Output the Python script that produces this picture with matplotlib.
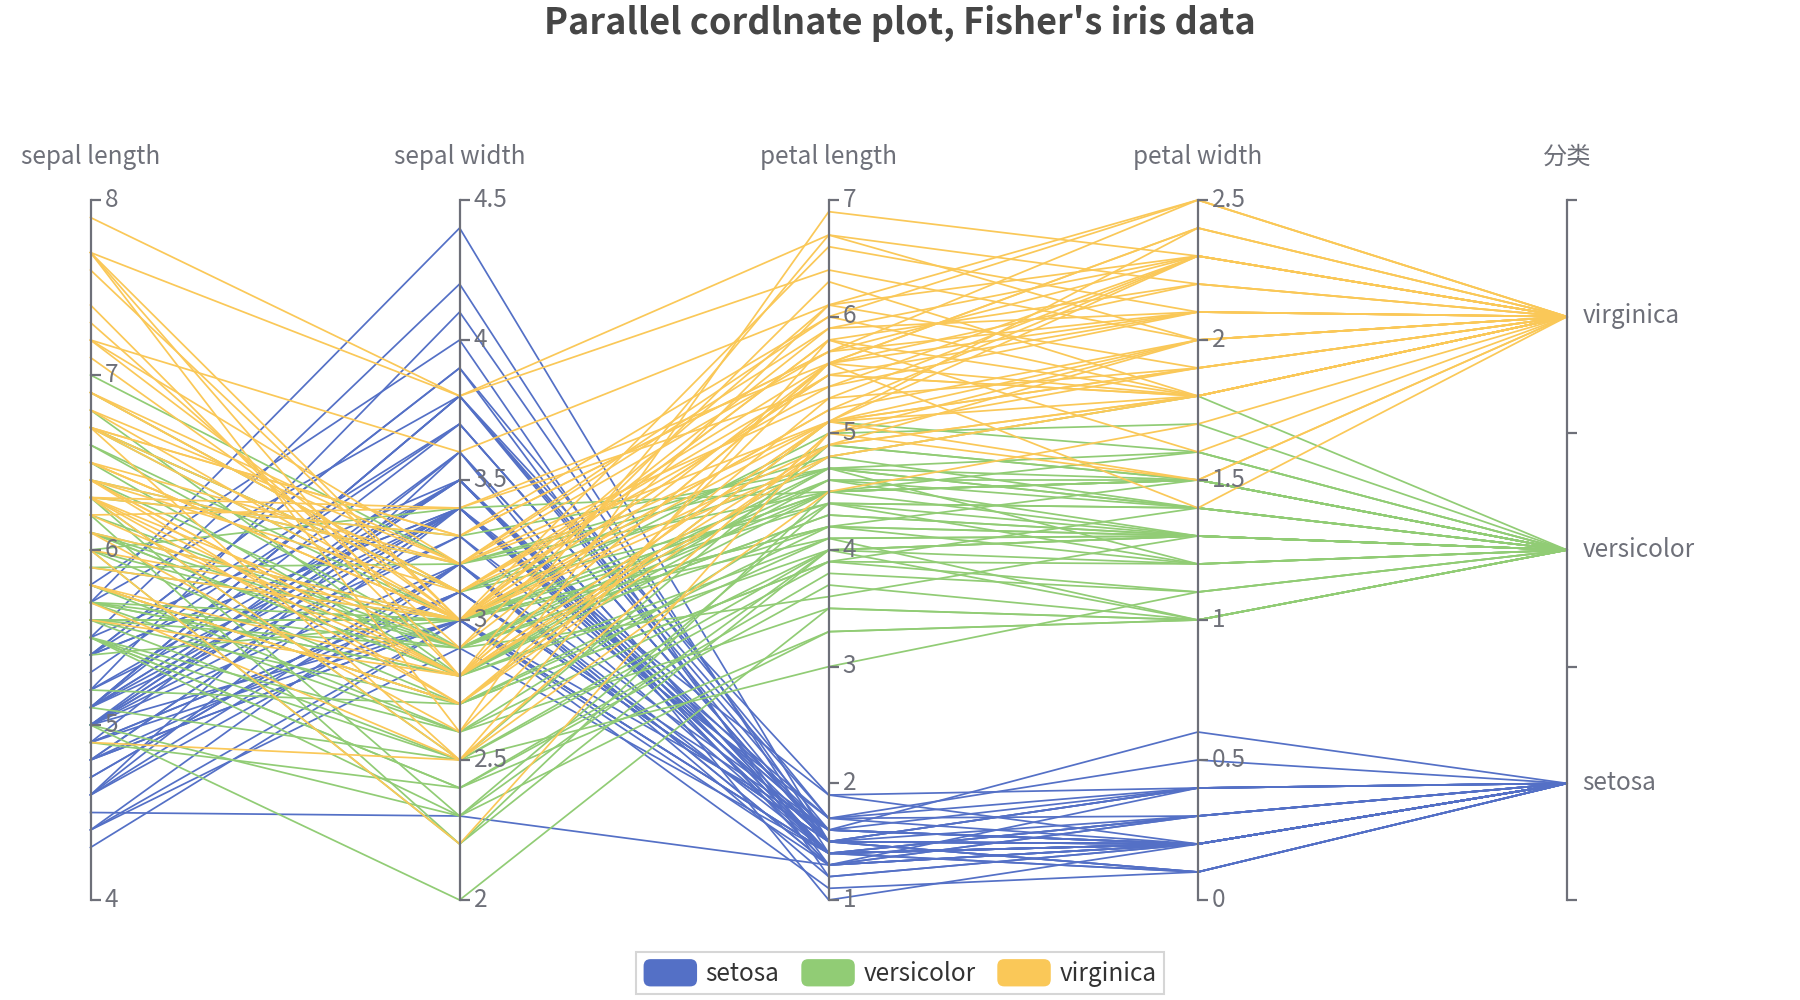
import matplotlib
matplotlib.use("Agg")
import matplotlib.pyplot as plt
from matplotlib.patches import Patch, FancyBboxPatch
from matplotlib.legend_handler import HandlerPatch
from matplotlib.transforms import ScaledTranslation
import numpy as np

plt.rcParams['font.family'] = ['Noto Sans CJK SC', 'DejaVu Sans']

# Fisher's iris data, one list per column
sepal_length = [
    5.1, 4.9, 4.7, 4.6, 5.0, 5.4, 4.6, 5.0, 4.4, 4.9, 5.4, 4.8, 4.8, 4.3, 5.8, 5.7, 5.4, 5.1, 5.7, 5.1,
    5.4, 5.1, 4.6, 5.1, 4.8, 5.0, 5.0, 5.2, 5.2, 4.7, 4.8, 5.4, 5.2, 5.5, 4.9, 5.0, 5.5, 4.9, 4.4, 5.1,
    5.0, 4.5, 4.4, 5.0, 5.1, 4.8, 5.1, 4.6, 5.3, 5.0,
    7.0, 6.4, 6.9, 5.5, 6.5, 5.7, 6.3, 4.9, 6.6, 5.2, 5.0, 5.9, 6.0, 6.1, 5.6, 6.7, 5.6, 5.8, 6.2, 5.6,
    5.9, 6.1, 6.3, 6.1, 6.4, 6.6, 6.8, 6.7, 6.0, 5.7, 5.5, 5.5, 5.8, 6.0, 5.4, 6.0, 6.7, 6.3, 5.6, 5.5,
    5.5, 6.1, 5.8, 5.0, 5.6, 5.7, 5.7, 6.2, 5.1, 5.7,
    6.3, 5.8, 7.1, 6.3, 6.5, 7.6, 4.9, 7.3, 6.7, 7.2, 6.5, 6.4, 6.8, 5.7, 5.8, 6.4, 6.5, 7.7, 7.7, 6.0,
    6.9, 5.6, 7.7, 6.3, 6.7, 7.2, 6.2, 6.1, 6.4, 7.2, 7.4, 7.9, 6.4, 6.3, 6.1, 7.7, 6.3, 6.4, 6.0, 6.9,
    6.7, 6.9, 5.8, 6.8, 6.7, 6.7, 6.3, 6.5, 6.2, 5.9,
]
sepal_width = [
    3.5, 3.0, 3.2, 3.1, 3.6, 3.9, 3.4, 3.4, 2.9, 3.1, 3.7, 3.4, 3.0, 3.0, 4.0, 4.4, 3.9, 3.5, 3.8, 3.8,
    3.4, 3.7, 3.6, 3.3, 3.4, 3.0, 3.4, 3.5, 3.4, 3.2, 3.1, 3.4, 4.1, 4.2, 3.1, 3.2, 3.5, 3.6, 3.0, 3.4,
    3.5, 2.3, 3.2, 3.5, 3.8, 3.0, 3.8, 3.2, 3.7, 3.3,
    3.2, 3.2, 3.1, 2.3, 2.8, 2.8, 3.3, 2.4, 2.9, 2.7, 2.0, 3.0, 2.2, 2.9, 2.9, 3.1, 3.0, 2.7, 2.2, 2.5,
    3.2, 2.8, 2.5, 2.8, 2.9, 3.0, 2.8, 3.0, 2.9, 2.6, 2.4, 2.4, 2.7, 2.7, 3.0, 3.4, 3.1, 2.3, 3.0, 2.5,
    2.6, 3.0, 2.6, 2.3, 2.7, 3.0, 2.9, 2.9, 2.5, 2.8,
    3.3, 2.7, 3.0, 2.9, 3.0, 3.0, 2.5, 2.9, 2.5, 3.6, 3.2, 2.7, 3.0, 2.5, 2.8, 3.2, 3.0, 3.8, 2.6, 2.2,
    3.2, 2.8, 2.8, 2.7, 3.3, 3.2, 2.8, 3.0, 2.8, 3.0, 2.8, 3.8, 2.8, 2.8, 2.6, 3.0, 3.4, 3.1, 3.0, 3.1,
    3.1, 3.1, 2.7, 3.2, 3.3, 3.0, 2.5, 3.0, 3.4, 3.0,
]
petal_length = [
    1.4, 1.4, 1.3, 1.5, 1.4, 1.7, 1.4, 1.5, 1.4, 1.5, 1.5, 1.6, 1.4, 1.1, 1.2, 1.5, 1.3, 1.4, 1.7, 1.5,
    1.7, 1.5, 1.0, 1.7, 1.9, 1.6, 1.6, 1.5, 1.4, 1.6, 1.6, 1.5, 1.5, 1.4, 1.5, 1.2, 1.3, 1.4, 1.3, 1.5,
    1.3, 1.3, 1.3, 1.6, 1.9, 1.4, 1.6, 1.4, 1.5, 1.4,
    4.7, 4.5, 4.9, 4.0, 4.6, 4.5, 4.7, 3.3, 4.6, 3.9, 3.5, 4.2, 4.0, 4.7, 3.6, 4.4, 4.5, 4.1, 4.5, 3.9,
    4.8, 4.0, 4.9, 4.7, 4.3, 4.4, 4.8, 5.0, 4.5, 3.5, 3.8, 3.7, 3.9, 5.1, 4.5, 4.5, 4.7, 4.4, 4.1, 4.0,
    4.4, 4.6, 4.0, 3.3, 4.2, 4.2, 4.2, 4.3, 3.0, 4.1,
    6.0, 5.1, 5.9, 5.6, 5.8, 6.6, 4.5, 6.3, 5.8, 6.1, 5.1, 5.3, 5.5, 5.0, 5.1, 5.3, 5.5, 6.7, 6.9, 5.0,
    5.7, 4.9, 6.7, 4.9, 5.7, 6.0, 4.8, 4.9, 5.6, 5.8, 6.1, 6.4, 5.6, 5.1, 5.6, 6.1, 5.6, 5.5, 4.8, 5.4,
    5.6, 5.1, 5.1, 5.9, 5.7, 5.2, 5.0, 5.2, 5.4, 5.1,
]
petal_width = [
    0.2, 0.2, 0.2, 0.2, 0.2, 0.4, 0.3, 0.2, 0.2, 0.1, 0.2, 0.2, 0.1, 0.1, 0.2, 0.4, 0.4, 0.3, 0.3, 0.3,
    0.2, 0.4, 0.2, 0.5, 0.2, 0.2, 0.4, 0.2, 0.2, 0.2, 0.2, 0.4, 0.1, 0.2, 0.1, 0.2, 0.2, 0.1, 0.2, 0.2,
    0.3, 0.3, 0.2, 0.6, 0.4, 0.3, 0.2, 0.2, 0.2, 0.2,
    1.4, 1.5, 1.5, 1.3, 1.5, 1.3, 1.6, 1.0, 1.3, 1.4, 1.0, 1.5, 1.0, 1.4, 1.3, 1.4, 1.5, 1.0, 1.5, 1.1,
    1.8, 1.3, 1.5, 1.2, 1.3, 1.4, 1.4, 1.7, 1.5, 1.0, 1.1, 1.0, 1.2, 1.6, 1.5, 1.6, 1.5, 1.3, 1.3, 1.3,
    1.2, 1.4, 1.2, 1.0, 1.3, 1.2, 1.3, 1.3, 1.1, 1.3,
    2.5, 1.9, 2.1, 1.8, 2.2, 2.1, 1.7, 1.8, 1.8, 2.5, 2.0, 1.9, 2.1, 2.0, 2.4, 2.3, 1.8, 2.2, 2.3, 1.5,
    2.3, 2.0, 2.0, 1.8, 2.1, 1.8, 1.8, 1.8, 2.1, 1.6, 1.9, 2.0, 2.2, 1.5, 1.4, 2.3, 2.4, 1.8, 1.8, 2.1,
    2.4, 2.3, 1.9, 2.3, 2.5, 2.3, 1.9, 2.0, 2.3, 1.8,
]
species = ['setosa'] * 50 + ['versicolor'] * 50 + ['virginica'] * 50

classes = ['setosa', 'versicolor', 'virginica']
colors = {'setosa': '#5470c6', 'versicolor': '#91cc75', 'virginica': '#fac858'}
dim_names = ['sepal length', 'sepal width', 'petal length', 'petal width', '分类']
dim_ranges = [(4, 8), (2, 4.5), (1, 7), (0, 2.5)]
dim_ticks = [
    [4, 5, 6, 7, 8],
    [2, 2.5, 3, 3.5, 4, 4.5],
    [1, 2, 3, 4, 5, 6, 7],
    [0, 0.5, 1, 1.5, 2, 2.5],
]

axis_color = '#6E7079'
W, H = 1800, 1000
left_px, right_px = 90.5, 1567
top_px, bottom_px = 200, 900

fig = plt.figure(figsize=(18, 10), dpi=100)
main = fig.add_axes([left_px / W, 1 - bottom_px / H,
                     (right_px - left_px) / W, (bottom_px - top_px) / H])
main.set_xlim(0, 4)
main.set_ylim(0, 1)
main.axis('off')

# normalise each column into its axis range, category into its band centre
cols = [sepal_length, sepal_width, petal_length, petal_width]
norm = []
for vals, (lo, hi) in zip(cols, dim_ranges):
    norm.append((np.array(vals) - lo) / (hi - lo))
cat_pos = np.array([(classes.index(s) + 0.5) / len(classes) for s in species])
norm.append(cat_pos)
norm = np.array(norm).T

xs = np.arange(5)
for cls in classes:
    for row, s in zip(norm, species):
        if s == cls:
            main.plot(xs, row, color=colors[cls], lw=1.25, clip_on=False,
                      solid_joinstyle='miter')

# nudge tick labels up a little
lift = ScaledTranslation(0, 2.5 / 72, fig.dpi_scale_trans)

# one thin axes per dimension for its scale
for i, name in enumerate(dim_names):
    xf = (left_px + i * (right_px - left_px) / 4) / W
    ax = fig.add_axes([xf - 0.00005, 1 - bottom_px / H, 0.0001, (bottom_px - top_px) / H])
    ax.patch.set_visible(False)
    for sp in ['top', 'bottom', 'left']:
        ax.spines[sp].set_visible(False)
    ax.spines['right'].set_color(axis_color)
    ax.spines['right'].set_linewidth(1.6)
    ax.xaxis.set_visible(False)
    ax.yaxis.set_ticks_position('right')
    ax.tick_params(axis='y', which='major', direction='out', length=7, width=1.6,
                   color=axis_color, labelcolor=axis_color, labelsize=17.5, pad=3)
    if i < 4:
        ax.set_ylim(*dim_ranges[i])
        ax.set_yticks(dim_ticks[i])
        ax.set_yticklabels([f'{t:g}' for t in dim_ticks[i]])
        for tick in ax.yaxis.get_major_ticks():
            tick.label2.set_transform(tick.label2.get_transform() + lift)
    else:
        ax.set_ylim(0, 1)
        ax.set_yticks([0, 1 / 3, 2 / 3, 1])
        ax.set_yticklabels([])
        ax.set_yticks([1 / 6, 0.5, 5 / 6], minor=True)
        ax.set_yticklabels(classes, minor=True)
        ax.tick_params(axis='y', which='minor', length=0, labelcolor=axis_color,
                       labelsize=17.5, pad=11)
        for tick in ax.yaxis.get_minor_ticks():
            tick.label2.set_transform(tick.label2.get_transform() + lift)
    fig.text(xf, 1 - 157 / H, name, ha='center', va='center', color=axis_color, fontsize=17.5)

fig.suptitle("Parallel cordlnate plot, Fisher's iris data", x=0.5, y=1 - 24 / H,
             va='center', fontsize=26, fontweight='bold', color='#464646')


class RoundHandler(HandlerPatch):
    def create_artists(self, legend, orig_handle, xdescent, ydescent, width, height,
                       fontsize, trans):
        p = FancyBboxPatch((-xdescent, -ydescent), width, height,
                           boxstyle='round,pad=0,rounding_size=5',
                           facecolor=orig_handle.get_facecolor(), edgecolor='none',
                           transform=trans)
        return [p]


handles = [Patch(facecolor=colors[c], label=c) for c in classes]
leg = fig.legend(handles=handles, loc='center', bbox_to_anchor=(0.5, 1 - 973 / H),
                 ncol=3, fontsize=17.5, frameon=True, fancybox=False,
                 handlelength=2.2, handleheight=1.35, handletextpad=0.35,
                 columnspacing=0.9, borderpad=0.3,
                 handler_map={Patch: RoundHandler()})
leg.get_frame().set_edgecolor('#cccccc')
leg.get_frame().set_linewidth(1.5)
for t in leg.get_texts():
    t.set_color('#333333')

fig.savefig('out.png', dpi=100)
